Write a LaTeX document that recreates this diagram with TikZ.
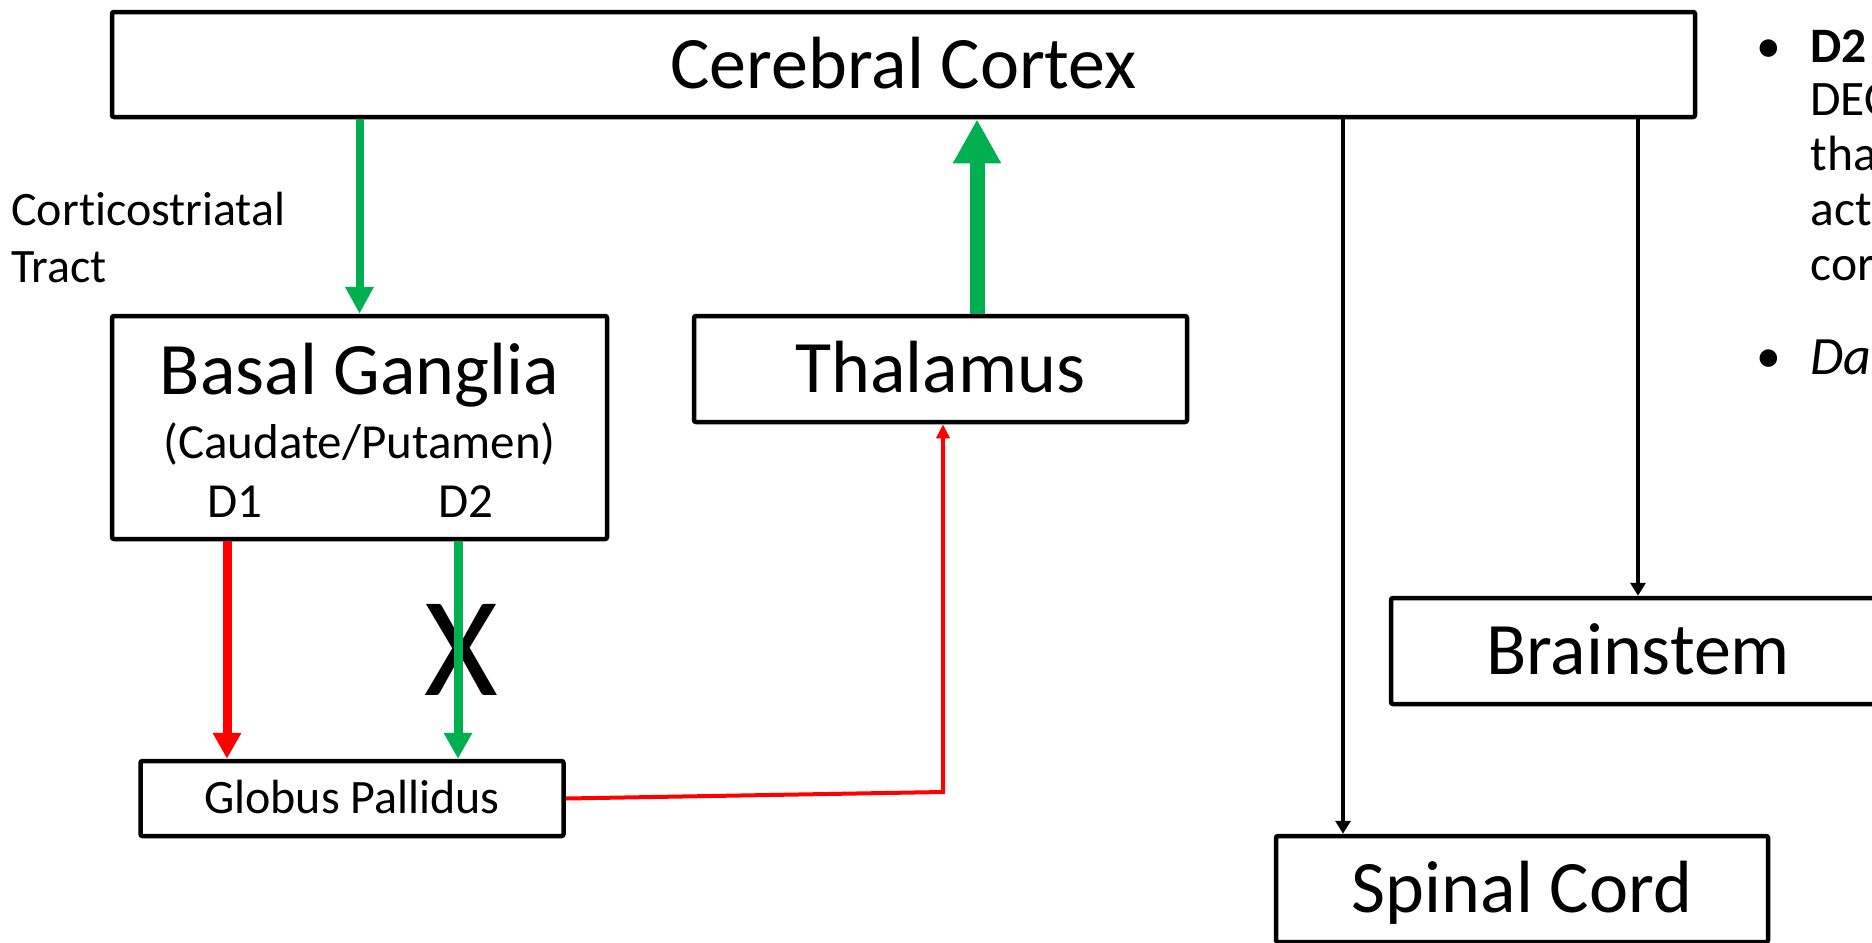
\documentclass[tikz,border=0pt]{standalone}
\usepackage{fontspec}
\setmainfont{Carlito}[Ligatures=NoCommon]
\usetikzlibrary{arrows.meta}
\definecolor{pgreen}{HTML}{00B050}
\definecolor{pred}{HTML}{FF0000}
\begin{document}
\begin{tikzpicture}[x=0.5pt,y=-0.5pt,
  box/.style={draw=black, line width=2.25pt, rounded corners=1pt, inner sep=0pt},
  bigbox/.style={box, font=\fontsize{37}{44}\selectfont, text height=29.6pt, text depth=5.8pt},
  smallbox/.style={box, font=\fontsize{24}{28}\selectfont, text height=19.2pt, text depth=3.75pt},
  bigtext/.style={font=\fontsize{37}{44}\selectfont, inner sep=0pt, anchor=base},
  midtext/.style={font=\fontsize{24.5}{29}\selectfont, inner sep=0pt, anchor=base},
  smalltext/.style={font=\fontsize{24}{28}\selectfont, inner sep=0pt, anchor=base west},
  notetext/.style={font=\fontsize{24.8}{28}\selectfont, inner sep=0pt, anchor=base west},
  gthin/.style={draw=pgreen, line width=4pt, -{Triangle[width=13.5pt,length=13.5pt]}},
  gmid/.style={draw=pgreen, line width=4.5pt, -{Triangle[width=13.5pt,length=13pt]}},
  rmid/.style={draw=pred, line width=4.5pt, -{Triangle[width=13.5pt,length=13pt]}},
  gthick/.style={draw=pgreen, line width=7.5pt, -{Triangle[width=22.5pt,length=22pt]}},
  rthin/.style={draw=pred, line width=2pt, line join=miter, -{Triangle[width=6.5pt,length=7pt]}},
  barrow/.style={draw=black, line width=2pt, -{Triangle[width=7.5pt,length=6.5pt]}}
]
\useasboundingbox (0,0) rectangle (1872,942);
\clip (0,0) rectangle (1872,942);

% boxes
\node[bigbox, minimum width=791.5pt, minimum height=52.5pt] (cortex) at (903.5,64.5) {Cerebral Cortex};
\node[box, minimum width=247.5pt, minimum height=111.5pt] (bg) at (359.5,427.5) {};
\node[bigtext] (bgtitle) at (359.5,394) {Basal Ganglia};
\node[midtext] (bgsub) at (359.5,458) {(Caudate/Putamen)};
\node[midtext] (d1) at (235,517) {D1};
\node[midtext] (d2) at (466,517) {D2};
\node[bigbox, minimum width=246.5pt, minimum height=53pt] (thalamus) at (940.5,369) {Thalamus};
\node[smallbox, minimum width=211.5pt, minimum height=37.5pt] (gp) at (352,798.5) {Globus Pallidus};
\node[bigbox, minimum width=247pt, minimum height=53pt] (brainstem) at (1638,651) {Brainstem};
\node[bigbox, minimum width=246pt, minimum height=53pt] (spinal) at (1522,889) {Spinal Cord};

% side label
\node[smalltext] (ct1) at (11,225) {Corticostriatal};
\node[smalltext] (ct2) at (11,282) {Tract};

% blocked mark
\node[font=\fontsize{71}{80}\selectfont, inner sep=0pt, anchor=base] (xmark) at (461,695) {X};

% connectors
\draw[gthin] (bg.north |- cortex.south) -- (bg.north);
\draw[gthick] ([xshift=18.25pt]thalamus.north) -- ([xshift=18.25pt]thalamus.north |- cortex.south);
\draw[rmid] ([xshift=-4pt]d1.base |- bg.south) -- ([xshift=-4pt]d1.base |- gp.north);
\draw[gmid] ([xshift=-4pt]d2.base |- bg.south) -- ([xshift=-4pt]d2.base |- gp.north);
\coordinate (bend) at (943,792);
\draw[rthin] (gp.east) -- (bend) -- (bend |- thalamus.south);
\draw[barrow] ([xshift=-89.5pt]spinal.north |- cortex.south) -- ([xshift=-89.5pt]spinal.north);
\draw[barrow] (brainstem.north |- cortex.south) -- (brainstem.north);

% right-hand notes (cut off at the edge)
\node[notetext] (bul1) at (1756,62) {•};
\node[notetext] (n1) at (1810,62) {\bfseries D2};
\node[notetext] (n2) at (1810,115) {DEC};
\node[notetext] (n3) at (1810,170) {tha};
\node[notetext] (n4) at (1810,225) {act};
\node[notetext] (n5) at (1810,280) {cor};
\node[notetext] (bul2) at (1756,372) {•};
\node[notetext, font=\fontsize{27}{30}\selectfont] (n6) at (1810,374) {\itshape Da};
\end{tikzpicture}
\end{document}
